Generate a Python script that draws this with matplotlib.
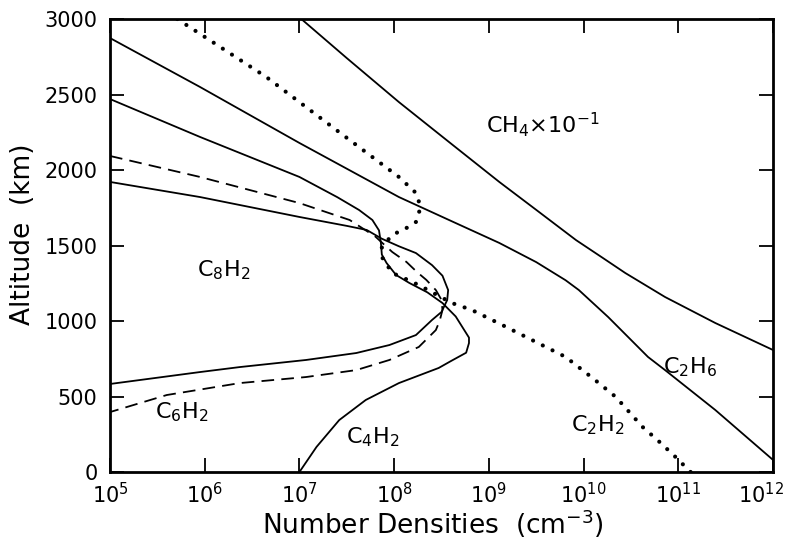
import numpy as np
import matplotlib
matplotlib.use("Agg")
import matplotlib.pyplot as plt
from matplotlib.transforms import ScaledTranslation

plt.rcParams['font.family'] = ['DejaVu Sans']
plt.rcParams['mathtext.fontset'] = 'dejavusans'

# log10 of number density (cm^-3) and altitude (km)
ch4_logn = [7.02, 7.5, 8.05, 8.6, 9.11, 9.5, 9.92, 10.2, 10.44, 10.86, 11.39, 12.0]
ch4_alt = [3000, 2741, 2450, 2175, 1921, 1736, 1536, 1419, 1318, 1159, 987, 808]

c2h6_logn = [5.0, 5.95, 7.0, 8.05, 8.6, 9.11, 9.5, 9.81, 9.95, 10.26, 10.68, 10.86, 11.39, 12.0]
c2h6_alt = [2874, 2550, 2179, 1821, 1663, 1517, 1390, 1270, 1205, 1026, 762, 675, 411, 80]

c2h2_logn = [5.71, 6.65, 7.4, 8.05, 8.23, 8.28, 8.23, 8.13, 7.98, 7.87, 7.87, 7.98, 8.1,
             8.26, 8.61, 8.82, 9.14, 9.5, 9.81, 10.1, 10.34, 10.62, 10.8, 10.96, 11.13]
c2h2_alt = [3000, 2616, 2260, 1954, 1848, 1755, 1656, 1616, 1570, 1490, 1424, 1318, 1285,
            1238, 1119, 1073, 974, 860, 762, 620, 497, 300, 200, 106, 0]

c4h2_logn = [5.0, 5.95, 7.0, 7.4, 7.63, 7.77, 7.84, 7.86, 7.87, 7.92, 8.02, 8.16, 8.35,
             8.51, 8.65, 8.72, 8.79, 8.79, 8.76, 8.6, 8.47, 8.05, 7.7, 7.42, 7.18, 7.0]
c4h2_alt = [2470, 2219, 1954, 1820, 1735, 1669, 1600, 1517, 1440, 1384, 1305, 1252, 1190,
            1119, 1030, 960, 890, 854, 790, 735, 689, 589, 477, 344, 166, 0]

c6h2_logn = [5.0, 5.95, 7.0, 7.53, 7.8, 7.98, 8.13, 8.24, 8.34, 8.44, 8.5, 8.51, 8.48,
             8.44, 8.26, 7.95, 7.6, 7.07, 6.37, 5.6, 5.0]
c6h2_alt = [2093, 1954, 1781, 1669, 1560, 1457, 1391, 1325, 1272, 1205, 1140, 1073, 1000,
            940, 828, 742, 675, 629, 589, 510, 397]

c8h2_logn = [5.0, 5.95, 7.0, 7.5, 7.71, 7.87, 8.05, 8.23, 8.4, 8.51, 8.57, 8.56, 8.5,
             8.4, 8.23, 7.95, 7.6, 7.07, 6.37, 5.95, 5.0]
c8h2_alt = [1921, 1821, 1689, 1630, 1603, 1545, 1495, 1450, 1370, 1300, 1205, 1139, 1060,
            1007, 907, 841, 788, 742, 695, 662, 583]

xtick_exp = [5, 6, 7, 8, 9, 10, 11, 12]
xtick_labels = [r'$10^{%d}$' % e for e in xtick_exp]
yticks = [0, 500, 1000, 1500, 2000, 2500, 3000]

fig = plt.figure(figsize=(7.88, 5.40), dpi=100)
ax = fig.add_axes([0.1396, 0.1259, 0.8414, 0.8389])

solid = dict(color='black', lw=1.3)
ax.plot(np.power(10.0, ch4_logn), ch4_alt, **solid)
ax.plot(np.power(10.0, c2h6_logn), c2h6_alt, **solid)
ax.plot(np.power(10.0, c4h2_logn), c4h2_alt, **solid)
ax.plot(np.power(10.0, c8h2_logn), c8h2_alt, **solid)
ax.plot(np.power(10.0, c6h2_logn), c6h2_alt, color='black', lw=1.3, linestyle=(0, (7, 4)))
ax.plot(np.power(10.0, c2h2_logn), c2h2_alt, color='black', lw=3.0,
        linestyle=(0, (0.01, 2.6)), dash_capstyle='round')

ax.set_xscale('log')
ax.set_xlim(1e5, 1e12)
ax.set_ylim(0, 3000)
ax.set_xticks([10.0 ** e for e in xtick_exp])
ax.set_xticklabels(xtick_labels)
ax.set_yticks(yticks)
ax.minorticks_off()
ax.tick_params(which='major', direction='in', length=10, width=1.3,
               top=True, right=True, labelsize=15)
ax.tick_params(axis='y', pad=9)
ax.tick_params(axis='x', pad=7)
for s in ax.spines.values():
    s.set_linewidth(2.0)

# keep the last tick label inside the figure
last = ax.get_xticklabels()[-1]
last.set_transform(last.get_transform() + ScaledTranslation(-0.12, 0, fig.dpi_scale_trans))

ax.set_xlabel(r'Number Densities  (cm$^{-3}$)', fontsize=19)
ax.set_ylabel('Altitude  (km)', fontsize=19)
ax.xaxis.set_label_coords(0.487, -0.078)
ax.yaxis.set_label_coords(-0.112, 0.525)

lab = dict(fontsize=16, color='black')
ax.text(10 ** 8.97, 2298, r'CH$_4$$\times$10$^{-1}$', va='center', **lab)
ax.text(10 ** 5.92, 1338, r'C$_8$H$_2$', va='center', **lab)
ax.text(10 ** 5.47, 397, r'C$_6$H$_2$', va='center', **lab)
ax.text(10 ** 7.49, 232, r'C$_4$H$_2$', va='center', **lab)
ax.text(10 ** 9.87, 311, r'C$_2$H$_2$', va='center', **lab)
ax.text(10 ** 10.84, 695, r'C$_2$H$_6$', va='center', **lab)

fig.savefig('out.png', dpi=100)
